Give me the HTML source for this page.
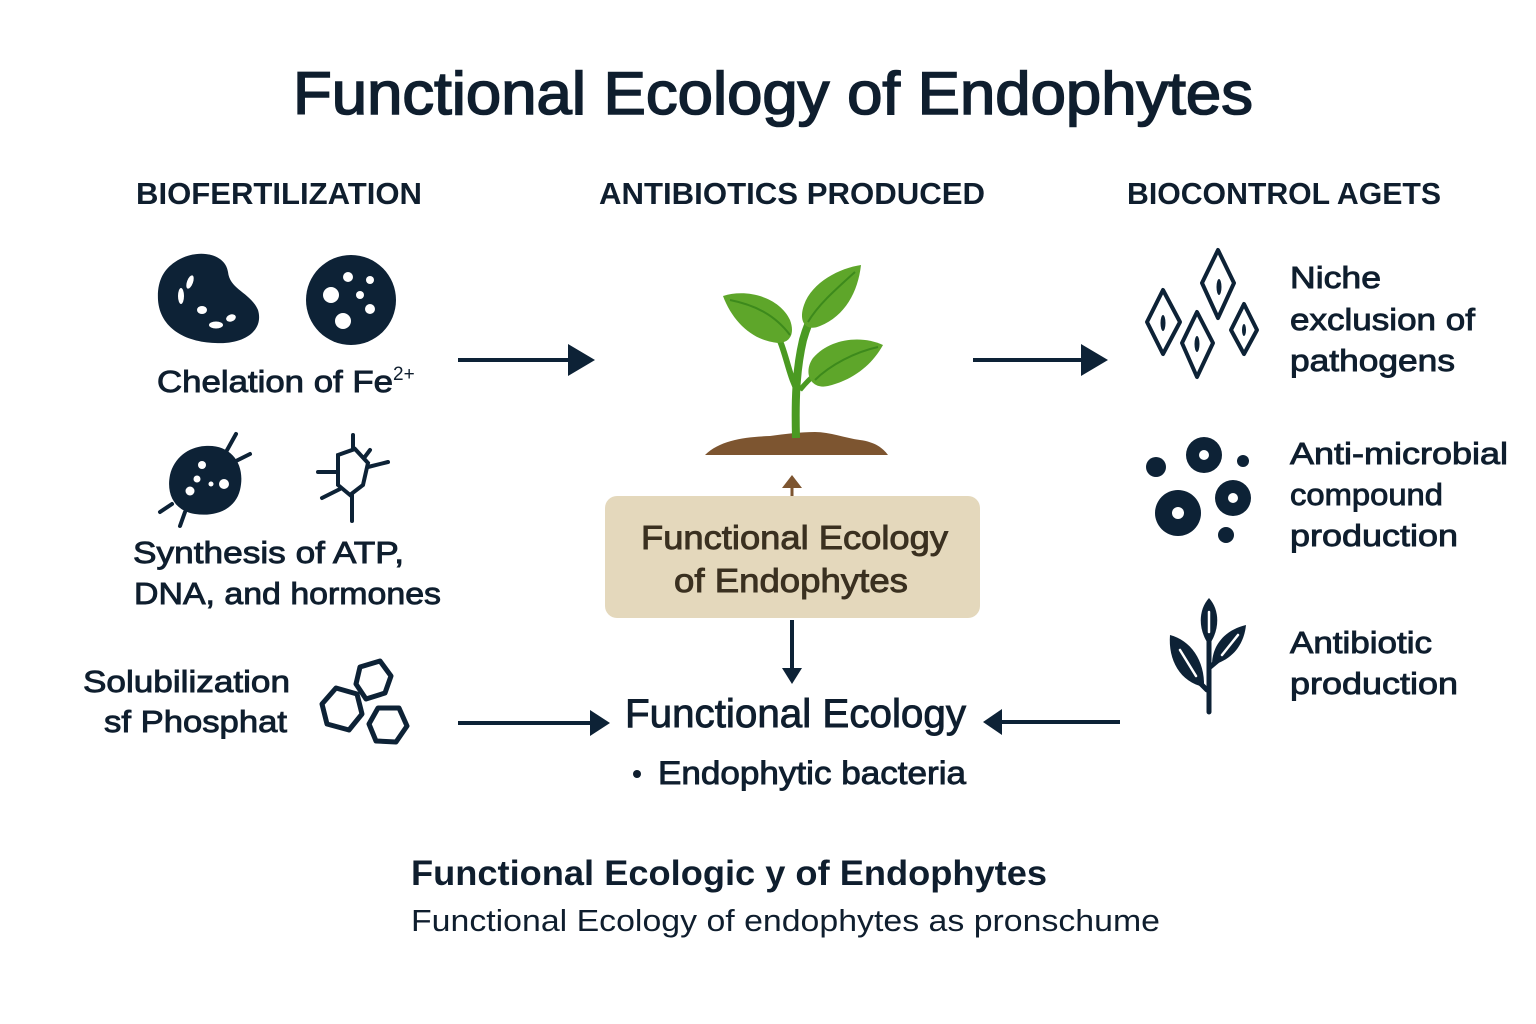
<!DOCTYPE html>
<html><head><meta charset="utf-8"><style>
html,body{margin:0;padding:0;background:#fff;}
svg{display:block;}
text{font-family:"Liberation Sans",sans-serif;fill:#0f1e2e;}
.m{stroke:#0f1e2e;stroke-width:0.9px;}
.t{stroke:#0f1e2e;stroke-width:1.6px;}
.b{stroke:#3a3020;stroke-width:0.9px;}
</style></head><body>
<svg width="1536" height="1024" viewBox="0 0 1536 1024" xmlns="http://www.w3.org/2000/svg">
<rect width="1536" height="1024" fill="#fff"/>
<text class="t" x="293" y="114" font-size="60" textLength="960" lengthAdjust="spacingAndGlyphs">Functional Ecology of Endophytes</text>
<text x="136" y="204" font-size="31" font-weight="bold" textLength="286" lengthAdjust="spacingAndGlyphs">BIOFERTILIZATION</text>
<text x="599" y="204" font-size="31" font-weight="bold" textLength="386" lengthAdjust="spacingAndGlyphs">ANTIBIOTICS PRODUCED</text>
<text x="1127" y="204" font-size="31" font-weight="bold" textLength="314" lengthAdjust="spacingAndGlyphs">BIOCONTROL AGETS</text>

<g fill="#0d2236">
<path d="M175 262 C195 248 225 252 228 272 C230 290 250 292 258 310 C264 330 245 345 215 343 C185 342 160 328 158 300 C157 282 163 270 175 262 Z"/>
<circle cx="351" cy="300" r="45"/>
<path d="M205 446 C232 444 246 465 240 490 C235 510 215 517 195 514 C175 511 166 495 170 475 C174 458 188 447 205 446 Z"/>
</g>
<g fill="#fff">
<ellipse cx="190" cy="282" rx="3" ry="7" transform="rotate(20 190 282)"/>
<ellipse cx="181" cy="296" rx="3" ry="8"/>
<ellipse cx="202" cy="310" rx="5" ry="4"/>
<ellipse cx="216" cy="325" rx="7" ry="3.5"/>
<ellipse cx="231" cy="318" rx="5" ry="3.5" transform="rotate(-20 231 318)"/>
<circle cx="348" cy="277" r="5"/><circle cx="370" cy="280" r="4"/>
<circle cx="331" cy="295" r="8"/><circle cx="360" cy="295" r="4"/>
<circle cx="370" cy="309" r="5"/><circle cx="343" cy="321" r="8"/>
<circle cx="202" cy="465" r="4"/><circle cx="197" cy="479" r="3.5"/>
<circle cx="211" cy="484" r="2.5"/><circle cx="224" cy="484" r="5"/>
<circle cx="190" cy="491" r="4.5"/>
</g>
<g stroke="#0d2236" stroke-width="4" stroke-linecap="round" fill="none">
<line x1="226" y1="452" x2="236" y2="434"/><line x1="236" y1="461" x2="250" y2="454"/>
<line x1="172" y1="504" x2="160" y2="512"/><line x1="185" y1="512" x2="180" y2="526"/>
<polygon points="338,455 355,449 368,463 363,485 350,495 338,485"/>
<line x1="353" y1="449" x2="353" y2="435"/><line x1="364" y1="458" x2="370" y2="450"/>
<line x1="368" y1="467" x2="388" y2="462"/><line x1="338" y1="472" x2="318" y2="472"/>
<line x1="340" y1="489" x2="322" y2="498"/><line x1="352" y1="495" x2="352" y2="521"/>
</g>
<g stroke="#0d2236" stroke-width="5" fill="none" stroke-linejoin="round">
<polygon points="360,667 380,661 391,676 385,693 366,699 356,684"/>
<polygon points="336,688 357,694 362,714 349,730 327,724 322,704"/>
<polygon points="378,708 399,708 407,726 396,742 376,741 369,724"/>
</g>

<text class="m" x="157" y="392" font-size="31" textLength="236" lengthAdjust="spacingAndGlyphs">Chelation of Fe</text>
<text x="393" y="380" font-size="19">2+</text>
<text class="m" x="133" y="563" font-size="31" textLength="271" lengthAdjust="spacingAndGlyphs">Synthesis of ATP,</text>
<text class="m" x="134" y="604" font-size="31" textLength="307" lengthAdjust="spacingAndGlyphs">DNA, and hormones</text>
<text class="m" x="83" y="692" font-size="31" textLength="207" lengthAdjust="spacingAndGlyphs">Solubilization</text>
<text class="m" x="104" y="732" font-size="31" textLength="183" lengthAdjust="spacingAndGlyphs">sf Phosphat</text>

<!-- Plant -->
<path d="M705 455 C720 440 745 437 770 436 C785 434 800 432 815 432 C830 432 845 438 860 440 C875 442 883 448 888 455 Z" fill="#7d5530"/>
<path d="M796 438 C795 400 796 370 803 340 C810 315 820 300 832 285" stroke="#4a9a22" stroke-width="8" fill="none"/>
<path d="M798 392 C786 370 785 340 770 325" stroke="#4a9a22" stroke-width="6" fill="none"/>
<path d="M800 390 C812 375 825 365 845 357" stroke="#4a9a22" stroke-width="5" fill="none"/>
<path d="M723 296 C748 288 780 298 790 320 C796 336 788 346 772 342 C750 338 732 320 723 296 Z" fill="#5ea62a"/>
<path d="M861 265 C840 268 812 282 804 305 C798 322 806 332 820 326 C845 316 858 292 861 265 Z" fill="#5ea62a"/>
<path d="M883 345 C862 335 830 338 813 358 C803 372 810 390 828 386 C853 380 872 365 883 345 Z" fill="#5ea62a"/>
<path d="M730 300 C755 305 775 315 790 335 M855 272 C835 290 818 305 808 322 M878 347 C855 352 830 365 815 380" stroke="#3d8a1c" stroke-width="2" fill="none"/>

<line x1="792" y1="497" x2="792" y2="486" stroke="#7d5530" stroke-width="3"/>
<polygon points="782,488 792,475 802,488" fill="#7d5530"/>
<rect x="605" y="496" width="375" height="122" rx="12" fill="#e4d8bc"/>
<text class="b" x="641" y="549" font-size="33" style="fill:#3a3020" textLength="307" lengthAdjust="spacingAndGlyphs">Functional Ecology</text>
<text class="b" x="674" y="592" font-size="33" style="fill:#3a3020" textLength="234" lengthAdjust="spacingAndGlyphs">of Endophytes</text>

<g stroke="#0d2236" stroke-width="4">
<line x1="458" y1="360" x2="575" y2="360"/>
<line x1="973" y1="360" x2="1090" y2="360"/>
<line x1="458" y1="723" x2="592" y2="723"/>
<line x1="1120" y1="722" x2="1000" y2="722"/>
<line x1="792" y1="620" x2="792" y2="670"/>
</g>
<g fill="#0d2236">
<polygon points="568,344 595,360 568,376"/>
<polygon points="1081,344 1108,360 1081,376"/>
<polygon points="590,710 610,723 590,736"/>
<polygon points="1002,709 983,722 1002,735"/>
<polygon points="782,668 802,668 792,684"/>
</g>

<text class="m" x="625" y="727" font-size="40" textLength="341" lengthAdjust="spacingAndGlyphs">Functional Ecology</text>
<circle cx="637" cy="774" r="4" fill="#0f1e2e"/>
<text class="m" x="658" y="784" font-size="32" textLength="308" lengthAdjust="spacingAndGlyphs">Endophytic bacteria</text>

<g stroke="#0d2236" stroke-width="4" fill="none" stroke-linejoin="round">
<polygon points="1218,250 1234,283 1218,318 1202,283"/>
<polygon points="1163,290 1180,322 1163,354 1147,322"/>
<polygon points="1197,312 1213,343 1197,377 1182,343"/>
<polygon points="1244,304 1257,330 1244,354 1231,330"/>
</g>
<g fill="#0d2236">
<ellipse cx="1219" cy="287" rx="2.5" ry="8"/><ellipse cx="1163" cy="323" rx="2.5" ry="8"/>
<ellipse cx="1197" cy="344" rx="2.5" ry="8"/><ellipse cx="1244" cy="330" rx="2" ry="6"/>
<circle cx="1156" cy="467" r="10"/><circle cx="1204" cy="455" r="18"/>
<circle cx="1243" cy="461" r="6"/><circle cx="1178" cy="513" r="23"/>
<circle cx="1233" cy="498" r="18"/><circle cx="1226" cy="535" r="8"/>
</g>
<g fill="#fff"><circle cx="1204" cy="455" r="5"/><circle cx="1178" cy="513" r="6"/><circle cx="1233" cy="498" r="5"/></g>
<g fill="#0d2236">
<path d="M1209 598 C1220 610 1220 630 1209 645 C1198 630 1198 610 1209 598 Z"/>
<path d="M1170 635 C1190 640 1205 660 1204 687 C1180 682 1168 660 1170 635 Z"/>
<path d="M1246 625 C1244 645 1232 660 1212 665 C1212 645 1225 630 1246 625 Z"/>
</g>
<path d="M1209 630 L1209 712 M1209 668 L1228 652 M1207 690 L1185 668" stroke="#0d2236" stroke-width="5" fill="none" stroke-linecap="round"/>
<g stroke="#fff" stroke-width="2.5" fill="none" stroke-linecap="round">
<line x1="1209" y1="612" x2="1209" y2="632"/><line x1="1180" y1="650" x2="1196" y2="676"/><line x1="1238" y1="635" x2="1222" y2="655"/>
</g>

<text class="m" x="1290" y="288" font-size="31" textLength="91" lengthAdjust="spacingAndGlyphs">Niche</text>
<text class="m" x="1290" y="330" font-size="31" textLength="185" lengthAdjust="spacingAndGlyphs">exclusion of</text>
<text class="m" x="1290" y="371" font-size="31" textLength="165" lengthAdjust="spacingAndGlyphs">pathogens</text>
<text class="m" x="1290" y="464" font-size="31" textLength="218" lengthAdjust="spacingAndGlyphs">Anti-microbial</text>
<text class="m" x="1290" y="505" font-size="31" textLength="153" lengthAdjust="spacingAndGlyphs">compound</text>
<text class="m" x="1290" y="546" font-size="31" textLength="168" lengthAdjust="spacingAndGlyphs">production</text>
<text class="m" x="1290" y="653" font-size="31" textLength="142" lengthAdjust="spacingAndGlyphs">Antibiotic</text>
<text class="m" x="1290" y="694" font-size="31" textLength="168" lengthAdjust="spacingAndGlyphs">production</text>

<text x="411" y="885" font-size="35" font-weight="bold" textLength="636" lengthAdjust="spacingAndGlyphs">Functional Ecologic y of Endophytes</text>
<text x="411" y="931" font-size="31" textLength="749" lengthAdjust="spacingAndGlyphs">Functional Ecology of endophytes as pronschume</text>
</svg>
</body></html>
